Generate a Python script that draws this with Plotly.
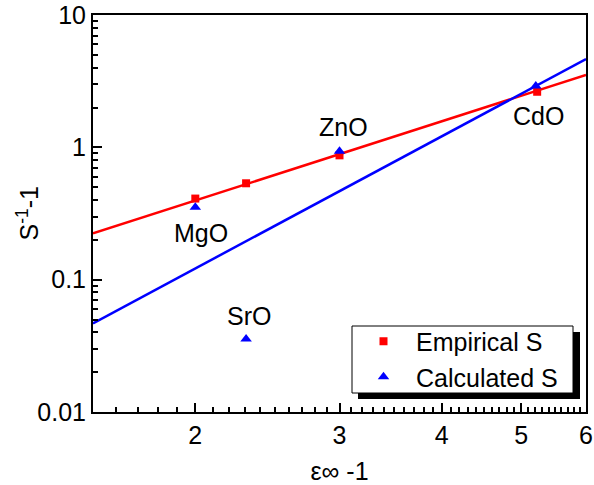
import numpy as np
import plotly.graph_objects as go

# Data
compounds = ["MgO", "SrO", "ZnO", "CdO"]
emp_x = [2.0, 2.307, 3.0, 5.23]
emp_y = [0.41, 0.535, 0.87, 2.63]
calc_x = [2.0, 2.307, 3.0, 5.21]
calc_y = [0.352, 0.0356, 0.935, 2.91]
# Fitted lines (power law, straight in log-log)
fit_x = [1.5, 6.0]
fit_emp_y = [0.224, 3.52]
fit_calc_y = [0.0468, 4.65]
# label anchor points (on calculated triangles) and pixel offsets
label_x = [2.0, 2.307, 3.0, 5.21]
label_y = [0.352, 0.0356, 0.935, 2.91]
label_shift = [(6, -26), (3, 23), (4, 24), (3, -30)]

x_ticks = [2, 3, 4, 5, 6]
y_ticks = [0.01, 0.1, 1, 10]
x_minor = [round(v, 1) for v in np.arange(1.5, 6.0, 0.1)]
y_minor = [m * d for d in (0.01, 0.1, 1) for m in range(2, 10)]

FONT = "Arial, Liberation Sans, sans-serif"
FS = 25

fig = go.Figure()
fig.add_trace(go.Scatter(x=fit_x, y=fit_emp_y, mode="lines",
                         line=dict(color="#ff0000", width=2.5), showlegend=False))
fig.add_trace(go.Scatter(x=fit_x, y=fit_calc_y, mode="lines",
                         line=dict(color="#0000ff", width=2.5), showlegend=False))
fig.add_trace(go.Scatter(x=emp_x, y=emp_y, mode="markers", name="Empirical S",
                         marker=dict(symbol="square", size=8, color="#ff0000")))
fig.add_trace(go.Scatter(x=calc_x, y=calc_y, mode="markers", name="Calculated S",
                         marker=dict(symbol="triangle-up", size=10, color="#0000ff")))

for name, lx, ly, (dx, dy) in zip(compounds, label_x, label_y, label_shift):
    fig.add_annotation(x=np.log10(lx), y=np.log10(ly), text=name, showarrow=False,
                       xshift=dx, yshift=dy, font=dict(size=FS, color="black", family=FONT))

# y-axis title as rotated annotation
fig.add_annotation(xref="paper", yref="paper", x=(27 - 93) / 493, y=0.5,
                   text="S<sup>-1</sup>-1", textangle=-90, showarrow=False,
                   xanchor="center", yanchor="middle",
                   font=dict(size=FS, color="black", family=FONT))

def px_x(p):
    return (p - 93) / 493

def px_y(p):
    return (412 - p) / 397

# legend frame with drop shadow
fig.add_shape(type="rect", xref="paper", yref="paper",
              x0=px_x(358), x1=px_x(580), y0=px_y(399), y1=px_y(332),
              fillcolor="black", line=dict(width=0), layer="above")
fig.add_shape(type="rect", xref="paper", yref="paper",
              x0=px_x(352), x1=px_x(573), y0=px_y(393), y1=px_y(326),
              fillcolor="white", line=dict(width=1, color="black"), layer="above")

axis_common = dict(showline=True, linecolor="black", linewidth=2, mirror=True,
                   ticks="inside", tickcolor="black", tickwidth=2, ticklen=9,
                   showgrid=False, zeroline=False, automargin=False,
                   tickfont=dict(size=FS, color="black", family=FONT))

fig.update_xaxes(type="log", range=[np.log10(1.5), np.log10(6.0)],
                 tickvals=x_ticks, ticktext=[str(v) for v in x_ticks],
                 minor=dict(ticks="inside", ticklen=5, tickcolor="black", tickwidth=1.5,
                            tickmode="array", tickvals=x_minor),
                 title=dict(text="ε∞ -1", font=dict(size=FS, color="black", family=FONT)),
                 **axis_common)
fig.update_yaxes(type="log", range=[-2, 1],
                 tickvals=y_ticks, ticktext=["0.01", "0.1", "1", "10"],
                 minor=dict(ticks="inside", ticklen=5, tickcolor="black", tickwidth=1.5,
                            tickmode="array", tickvals=y_minor),
                 **axis_common)

fig.update_layout(
    width=594, height=485,
    margin=dict(l=93, r=8, t=15, b=73),
    paper_bgcolor="white", plot_bgcolor="white",
    font=dict(family=FONT, size=FS, color="black"),
    legend=dict(x=px_x(351), y=px_y(359), xanchor="left", yanchor="middle",
                bgcolor="rgba(0,0,0,0)", borderwidth=0,
                font=dict(size=FS, color="black", family=FONT),
                itemwidth=55, tracegroupgap=0),
)

fig.write_html("out.html")
